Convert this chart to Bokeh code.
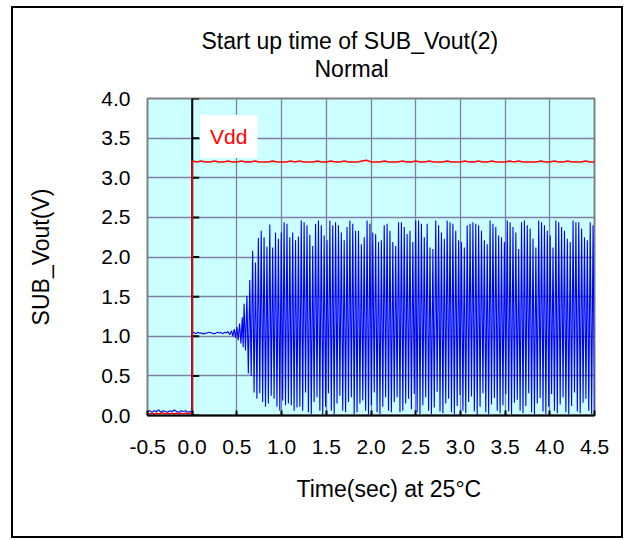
import math
from bokeh.plotting import figure
from bokeh.models import Label, Span, FixedTicker, PrintfTickFormatter, Title
from bokeh.embed import file_html
from bokeh.resources import INLINE

# ---------------- data ----------------
title_1 = "Start up time of SUB_Vout(2)"
title_2 = "Normal"
x_title = "Time(sec)  at  25°C"
y_title = "SUB_Vout(V)"
vdd_label = "Vdd"

x_ticks = [-0.5, 0.0, 0.5, 1.0, 1.5, 2.0, 2.5, 3.0, 3.5, 4.0, 4.5]
y_ticks = [0.0, 0.5, 1.0, 1.5, 2.0, 2.5, 3.0, 3.5, 4.0]

# before power-on (ms, V)
pre_ms = [-500, -475, -450, -425, -400, -375, -350, -325, -300, -275, -250,
          -225, -200, -175, -150, -125, -100, -75, -50, -25, 0]
pre_sub_v = [0.05, 0.06, 0.04, 0.06, 0.05, 0.07, 0.04, 0.06, 0.05, 0.04, 0.06,
             0.05, 0.07, 0.05, 0.04, 0.06, 0.05, 0.06, 0.04, 0.05, 0.05]
pre_vdd_v = [0.03, 0.02, 0.03, 0.02, 0.03, 0.02, 0.03, 0.03, 0.02, 0.03, 0.02,
             0.03, 0.02, 0.03, 0.02, 0.03, 0.02, 0.03, 0.02, 0.03, 0.03]

# Vdd after power-on (ms, V)
vdd_ms = [0, 50, 100, 150, 200, 250, 300, 350, 400, 450, 500, 550, 600, 650, 700,
          750, 800, 850, 900, 950, 1000, 1050, 1100, 1150, 1200, 1250, 1300, 1350,
          1400, 1450, 1500, 1550, 1600, 1650, 1700, 1750, 1800, 1850, 1900, 1950,
          2000, 2050, 2100, 2150, 2200, 2250, 2300, 2350, 2400, 2450, 2500, 2550,
          2600, 2650, 2700, 2750, 2800, 2850, 2900, 2950, 3000, 3050, 3100, 3150,
          3200, 3250, 3300, 3350, 3400, 3450, 3500, 3550, 3600, 3650, 3700, 3750,
          3800, 3850, 3900, 3950, 4000, 4050, 4100, 4150, 4200, 4250, 4300, 4350,
          4400, 4450, 4500]
vdd_v = [3.21, 3.20, 3.21, 3.20, 3.20, 3.21, 3.20, 3.20, 3.21, 3.20, 3.20, 3.21,
         3.20, 3.20, 3.21, 3.20, 3.20, 3.20, 3.21, 3.20, 3.20, 3.20, 3.21, 3.20,
         3.21, 3.20, 3.20, 3.20, 3.21, 3.20, 3.20, 3.21, 3.20, 3.20, 3.21, 3.20,
         3.20, 3.20, 3.21, 3.22, 3.20, 3.20, 3.20, 3.21, 3.20, 3.20, 3.20, 3.21,
         3.20, 3.20, 3.21, 3.20, 3.20, 3.21, 3.20, 3.20, 3.20, 3.21, 3.20, 3.20,
         3.20, 3.21, 3.20, 3.20, 3.21, 3.20, 3.20, 3.21, 3.20, 3.20, 3.20, 3.21,
         3.20, 3.21, 3.20, 3.20, 3.20, 3.20, 3.21, 3.20, 3.20, 3.21, 3.20, 3.20,
         3.21, 3.20, 3.20, 3.20, 3.21, 3.20, 3.20]

# SUB_Vout plateau after power-on (ms, V)
plateau_ms = [0, 20, 40, 60, 80, 100, 130, 160, 190, 220, 250, 280, 300, 320, 340,
              360, 380, 400, 420, 440, 455, 470, 485, 500, 515, 530, 545, 560, 570]
plateau_v = [1.04, 1.05, 1.03, 1.05, 1.04, 1.04, 1.03, 1.04, 1.05, 1.04, 1.03,
             1.05, 1.04, 1.05, 1.03, 1.05, 1.04, 1.06, 1.02, 1.07, 1.00, 1.09,
             0.98, 1.12, 0.95, 1.16, 0.91, 1.24, 0.86]

# SUB_Vout oscillation: peaks and troughs (ms, V)
peak_ms = [580, 612, 644, 676, 708, 740, 772, 804, 836, 868, 900, 932, 964, 996,
           1028, 1060, 1092, 1124, 1156, 1188, 1220, 1252, 1284, 1316, 1348, 1380,
           1412, 1444, 1476, 1508, 1540, 1572, 1604, 1636, 1668, 1700, 1732, 1764,
           1796, 1828, 1860, 1892, 1924, 1956, 1988, 2020, 2052, 2084, 2116, 2148,
           2180, 2212, 2244, 2276, 2308, 2340, 2372, 2404, 2436, 2468, 2500, 2532,
           2564, 2596, 2628, 2660, 2692, 2724, 2756, 2788, 2820, 2852, 2884, 2916,
           2948, 2980, 3012, 3044, 3076, 3108, 3140, 3172, 3204, 3236, 3268, 3300,
           3332, 3364, 3396, 3428, 3460, 3492, 3524, 3556, 3588, 3620, 3652, 3684,
           3716, 3748, 3780, 3812, 3844, 3876, 3908, 3940, 3972, 4004, 4036, 4068,
           4100, 4132, 4164, 4196, 4228, 4260, 4292, 4324, 4356, 4388, 4420, 4452,
           4484]
peak_v = [1.41, 1.51, 1.71, 2.08, 1.93, 2.24, 2.33, 2.25, 2.13, 2.41, 2.12, 2.31,
          2.23, 2.31, 2.44, 2.42, 2.25, 2.31, 2.21,
          2.26, 2.46, 2.44, 2.40, 2.28, 2.14, 2.42, 2.46, 2.40, 2.27, 2.21, 2.46,
          2.40, 2.44, 2.40, 2.31, 2.21, 2.38, 2.46, 2.42, 2.33, 2.33, 2.16, 2.25,
          2.46, 2.42, 2.31, 2.29, 2.19, 2.21, 2.40, 2.42, 2.33, 2.19, 2.14, 2.44,
          2.44, 2.38, 2.29,
          2.33, 2.19, 2.46, 2.46, 2.42, 2.25, 2.42, 2.12, 2.10, 2.46, 2.40, 2.31,
          2.23, 2.46, 2.44, 2.42, 2.33, 2.21, 2.19, 2.12, 2.40, 2.42, 2.44, 2.42,
          2.40, 2.33, 2.21, 2.16, 2.46, 2.42, 2.38, 2.27, 2.25, 2.19, 2.46, 2.44,
          2.38, 2.31,
          2.10, 2.44, 2.46, 2.40, 2.36, 2.23, 2.12, 2.46, 2.44, 2.40, 2.33, 2.27,
          2.12, 2.46, 2.44, 2.38, 2.33, 2.23, 2.19, 2.46, 2.44, 2.44, 2.36, 2.25,
          2.21, 2.44, 2.40]
trough_ms = [596, 628, 660, 692, 724, 756, 788, 820, 852, 884, 916, 948, 980, 1012,
             1044, 1076, 1108, 1140, 1172, 1204, 1236, 1268, 1300, 1332, 1364, 1396,
             1428, 1460, 1492, 1524, 1556, 1588, 1620, 1652, 1684, 1716, 1748, 1780,
             1812, 1844, 1876, 1908, 1940, 1972, 2004, 2036, 2068, 2100, 2132, 2164,
             2196, 2228, 2260, 2292, 2324, 2356, 2388, 2420, 2452, 2484, 2516, 2548,
             2580, 2612, 2644, 2676, 2708, 2740, 2772, 2804, 2836, 2868, 2900, 2932,
             2964, 2996, 3028, 3060, 3092, 3124, 3156, 3188, 3220, 3252, 3284, 3316,
             3348, 3380, 3412, 3444, 3476, 3508, 3540, 3572, 3604, 3636, 3668, 3700,
             3732, 3764, 3796, 3828, 3860, 3892, 3924, 3956, 3988, 4020, 4052, 4084,
             4116, 4148, 4180, 4212, 4244, 4276, 4308, 4340, 4372, 4404, 4436, 4468,
             4500]
trough_v = [0.82, 0.53, 0.50, 0.29, 0.21, 0.28, 0.17, 0.11, 0.15, 0.25, 0.21, 0.11,
            0.06, 0.19, 0.13, 0.15, 0.13, 0.06, 0.10,
            0.11, 0.06, 0.29, 0.04, 0.02, 0.17, 0.23, 0.06, 0.01, 0.11, 0.28, 0.06,
            0.02, 0.15, 0.25, 0.06, 0.04, 0.17, 0.23, 0.02, 0.04, 0.15, 0.19, 0.06,
            0.02, 0.13, 0.29, 0.04, 0.02, 0.11, 0.23, 0.06, 0.04, 0.17, 0.23, 0.04,
            0.06, 0.15, 0.21,
            0.08, 0.27, 0.04, 0.02, 0.13, 0.23, 0.06, 0.02, 0.10, 0.30, 0.05, 0.03,
            0.15, 0.21, 0.04, 0.02, 0.12, 0.26, 0.06, 0.03, 0.17, 0.24, 0.05, 0.01,
            0.11, 0.28, 0.04, 0.02, 0.14, 0.22, 0.06, 0.03, 0.13, 0.27, 0.05, 0.02,
            0.16, 0.20,
            0.06, 0.03, 0.12, 0.28, 0.04, 0.02, 0.15, 0.22, 0.05, 0.02, 0.11, 0.27,
            0.06, 0.03, 0.14, 0.23, 0.04, 0.02, 0.12, 0.29, 0.05, 0.03, 0.16, 0.21,
            0.06, 0.02, 0.05]

# ---------------- build series ----------------
osc_ms, osc_v = [], []
for pm, pv, tm, tv in zip(peak_ms, peak_v, trough_ms, trough_v):
    osc_ms += [pm, tm]
    osc_v += [pv, tv]

sub_t = [m / 1000 for m in pre_ms + plateau_ms + osc_ms]
sub_v = pre_sub_v + plateau_v + osc_v
vdd_t = [m / 1000 for m in pre_ms + vdd_ms]
vdd_vals = pre_vdd_v + vdd_v

FONT = "Liberation Sans"

p = figure(width=612, height=532, x_range=(-0.5, 4.5), y_range=(0, 4),
           output_backend="svg", toolbar_location=None,
           min_border_left=134, min_border_right=31, min_border_top=90,
           min_border_bottom=125)
p.styles = {"border": "2px solid black", "margin-left": "11px", "margin-top": "6px"}

p.background_fill_color = "#ccffff"
p.border_fill_color = "white"
p.outline_line_color = "#808080"
p.outline_line_width = 2

# axes
p.xaxis.ticker = FixedTicker(ticks=x_ticks)
p.yaxis.ticker = FixedTicker(ticks=y_ticks)
p.xaxis.formatter = PrintfTickFormatter(format="%.1f")
p.yaxis.formatter = PrintfTickFormatter(format="%.1f")
for ax in (p.xaxis[0], p.yaxis[0]):
    ax.major_label_text_font = FONT
    ax.major_label_text_font_size = "21px"
    ax.major_label_text_color = "black"
    ax.minor_tick_line_color = None
p.xaxis.axis_line_color = "black"
p.xaxis.axis_line_width = 2
p.xaxis.major_tick_line_color = "black"
p.xaxis.major_tick_line_width = 2
p.xaxis.major_tick_in = 5
p.xaxis.major_tick_out = 0
p.xaxis.major_label_standoff = 24
p.yaxis.axis_line_color = None
p.yaxis.major_tick_line_color = None
p.yaxis.major_tick_in = 0
p.yaxis.major_tick_out = 0
p.yaxis.major_label_standoff = 17
p.yaxis.axis_label = y_title
p.yaxis.axis_label_text_font = FONT
p.yaxis.axis_label_text_font_size = "23px"
p.yaxis.axis_label_text_font_style = "normal"
p.yaxis.axis_label_text_color = "black"
p.yaxis.axis_label_standoff = 44

# grid
p.xgrid.ticker = FixedTicker(ticks=x_ticks)
p.ygrid.ticker = FixedTicker(ticks=y_ticks)
for g in (p.xgrid[0], p.ygrid[0]):
    g.grid_line_color = "#7f7fa3"
    g.grid_line_width = 1.3

# y axis line crossing at x = 0
p.add_layout(Span(location=0, dimension="height", line_color="black",
                  line_width=2, level="underlay"))
p.ray(x=[0] * len(y_ticks), y=y_ticks, length=7, length_units="screen", angle=0,
      line_color="black", line_width=2)

# series
p.line(sub_t, sub_v, line_color="#0000ff", line_width=1.1)
p.line(vdd_t, vdd_vals, line_color="#ff0000", line_width=1.5)

# Vdd label
p.add_layout(Label(x=0.409, y=3.52, text=vdd_label, text_color="#ff0000",
                   text_font=FONT, text_font_size="21px", text_align="center",
                   text_baseline="middle", background_fill_color="white",
                   padding=10))

# titles
has_standoff = "standoff" in Title.properties()


def make_title(text, offset, standoff):
    t = Title(text=text, align="left", offset=offset, text_font=FONT,
              text_font_size="23px", text_font_style="normal", text_color="black")
    if has_standoff:
        t.standoff = standoff
    return t


p.add_layout(make_title(title_2, 167, 34), "above")
p.add_layout(make_title(title_1, 54, -34), "above")
p.add_layout(make_title(x_title, 149, 35), "below")

open("out.html", "w").write(file_html(p, INLINE))
